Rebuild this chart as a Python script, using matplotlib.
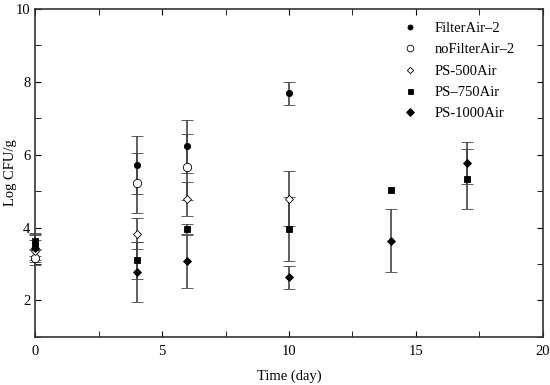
import numpy as np
import matplotlib.pyplot as plt
from matplotlib.ticker import MultipleLocator

plt.rcParams['font.family'] = ['Liberation Serif', 'DejaVu Serif']

# day, mean, error for each series
filter_day = [0, 4, 6, 10]
filter_val = [3.52, 5.71, 6.23, 7.68]
filter_err = [0.3, 0.8, 0.72, 0.31]

nofilter_day = [0, 4, 6]
nofilter_val = [3.17, 5.22, 5.66]
nofilter_err = [0.2, 0.83, 0.91]

ps500_day = [0, 4, 6, 10]
ps500_val = [3.35, 3.83, 4.79, 4.79]
ps500_err = [0.3, 0.43, 0.46, 0.75]

ps750_day = [0, 4, 6, 10, 14, 17]
ps750_val = [3.62, 3.10, 3.96, 3.96, 5.04, 5.33]
ps750_err = [0.22, 0.5, 0.15, 0.88, np.nan, 0.83]

ps1000_day = [0, 4, 6, 10, 14, 17]
ps1000_val = [3.45, 2.79, 3.07, 2.63, 3.64, 5.77]
ps1000_err = [0.35, 0.82, 0.72, 0.31, 0.86, 0.58]

series = [
    (filter_day, filter_val, filter_err, 'FilterAir\u20132', 'o', 'black', 4.5),
    (nofilter_day, nofilter_val, nofilter_err, 'noFilterAir\u20132', 'o', 'white', 6),
    (ps500_day, ps500_val, ps500_err, 'PS-500Air', 'D', 'white', 4),
    (ps750_day, ps750_val, ps750_err, 'PS\u2013750Air', 's', 'black', 4.5),
    (ps1000_day, ps1000_val, ps1000_err, 'PS-1000Air', 'D', 'black', 4.5),
]

fig = plt.figure(figsize=(5.5, 3.85), dpi=100)
ax = fig.add_axes([0.064, 0.125, 0.923, 0.852])

for d, v, e, lab, m, fc, ms in series:
    ax.errorbar(d, v, yerr=e, fmt=m, mfc=fc, mec='black', mew=0.6, ms=ms,
                ecolor='#444444', elinewidth=1.2, capsize=4, capthick=1.2,
                label=lab, clip_on=False, zorder=3)

ax.set_xlim(0, 20)
ax.set_ylim(1, 10)
ax.xaxis.set_major_locator(MultipleLocator(5))
ax.xaxis.set_minor_locator(MultipleLocator(2.5))
ax.yaxis.set_major_locator(MultipleLocator(2))
ax.yaxis.set_minor_locator(MultipleLocator(1))
ax.tick_params(which='both', direction='in', top=True, right=True, labelsize=10.5)
ax.tick_params(which='major', length=4)
ax.tick_params(which='minor', length=4)
ax.tick_params(axis='x', pad=6)
for s in ax.spines.values():
    s.set_linewidth(1.2)
    s.set_color('#333333')

ax.set_xlabel('Time (day)', fontsize=10.5, labelpad=8)
ax.set_ylabel('Log CFU/g', fontsize=10.5)
ax.yaxis.set_label_coords(-0.036, 0.5)

h, l = ax.get_legend_handles_labels()
h = [x[0] for x in h]
ax.legend(h, l, loc='upper right', frameon=False, fontsize=10.5, handletextpad=1.2,
          labelspacing=0.55, bbox_to_anchor=(0.97, 1.0), handlelength=1.0,
          markerscale=0.8)

fig.savefig('out.png', dpi=100)
